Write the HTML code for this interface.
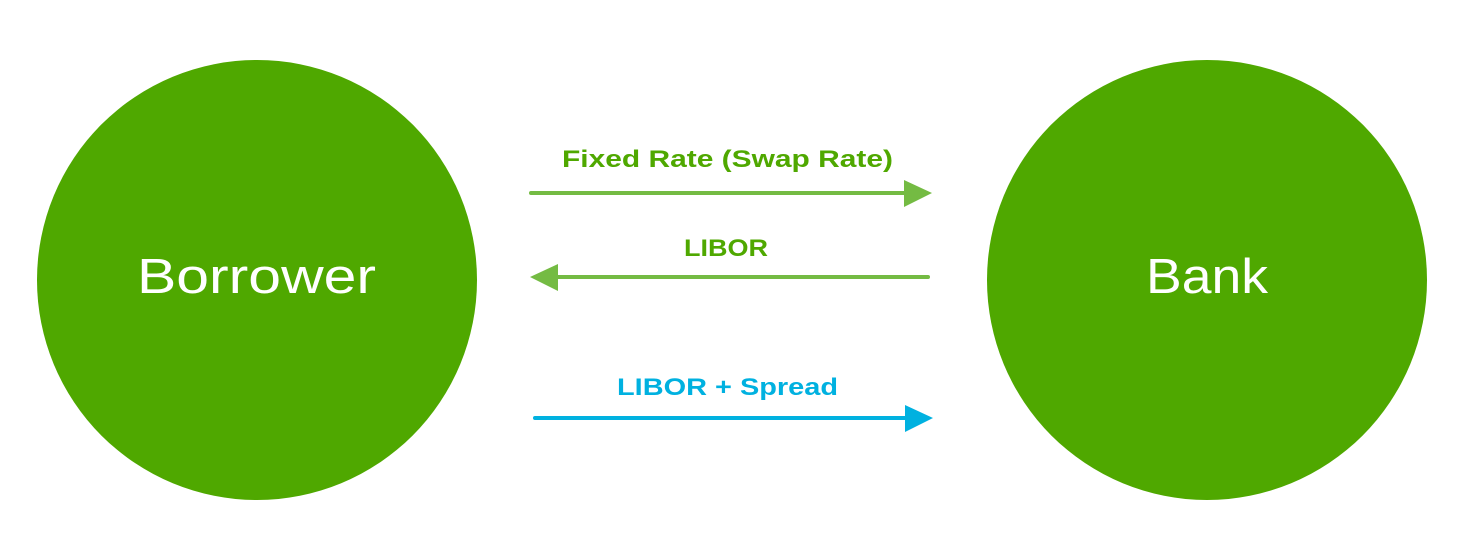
<!DOCTYPE html>
<html><head><meta charset="utf-8"><style>html,body{margin:0;padding:0;background:#fff}svg{display:block}</style></head>
<body>
<svg width="1464" height="560" viewBox="0 0 1464 560" xmlns="http://www.w3.org/2000/svg" font-family="Liberation Sans, sans-serif">
<circle cx="257" cy="280" r="220" fill="#4fa800"/>
<circle cx="1207" cy="280" r="220" fill="#4fa800"/>
<text x="137" y="293" font-size="49" fill="#fff" textLength="239" lengthAdjust="spacingAndGlyphs">Borrower</text>
<text x="1146" y="293" font-size="49" fill="#fff" textLength="122" lengthAdjust="spacingAndGlyphs">Bank</text>
<g font-weight="bold" font-size="24">
<text x="562" y="167" fill="#4fa800" textLength="331" lengthAdjust="spacingAndGlyphs">Fixed Rate (Swap Rate)</text>
<text x="684" y="256" fill="#4fa800" textLength="84" lengthAdjust="spacingAndGlyphs">LIBOR</text>
<text x="617" y="395" fill="#00b1e0" textLength="221" lengthAdjust="spacingAndGlyphs">LIBOR + Spread</text>
</g>
<line x1="531" y1="193" x2="906" y2="193" stroke="#74bb43" stroke-width="4" stroke-linecap="round"/>
<polygon points="904,180 932,193 904,207" fill="#74bb43"/>
<line x1="556" y1="277" x2="928" y2="277" stroke="#74bb43" stroke-width="4" stroke-linecap="round"/>
<polygon points="558,264 530,277 558,291" fill="#74bb43"/>
<line x1="535" y1="418" x2="907" y2="418" stroke="#00b1e0" stroke-width="4" stroke-linecap="round"/>
<polygon points="905,405 933,418 905,432" fill="#00b1e0"/>
</svg>
</body></html>
